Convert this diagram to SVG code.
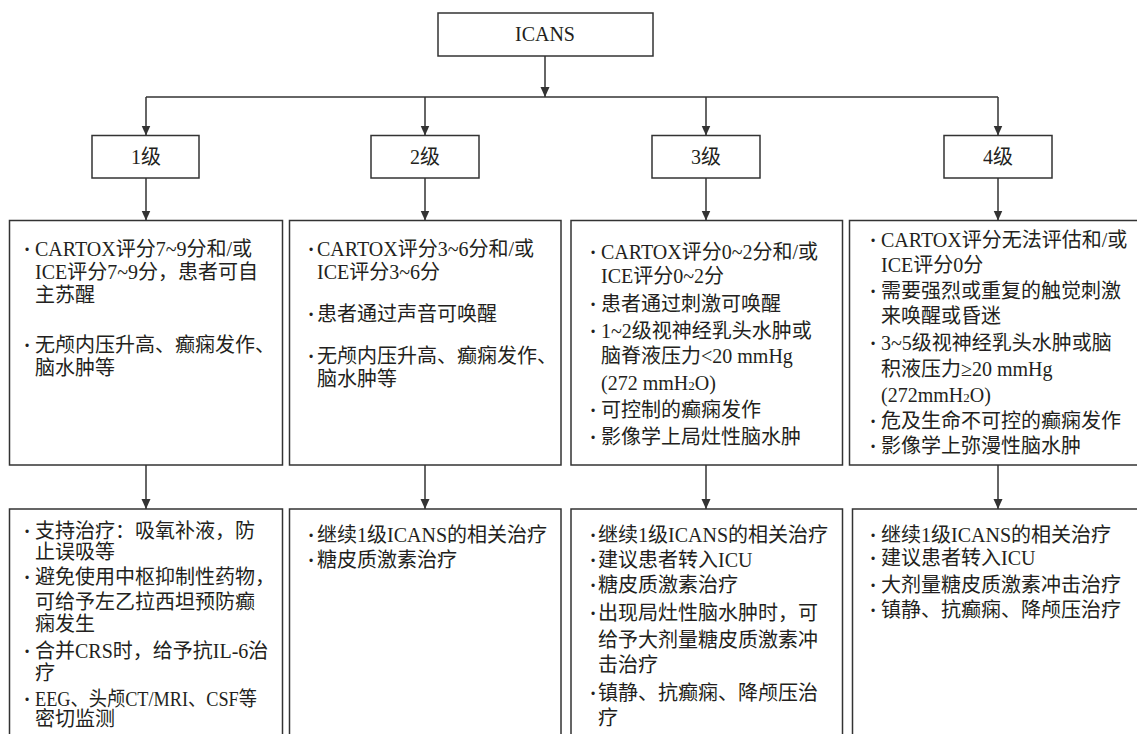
<svg xmlns="http://www.w3.org/2000/svg" width="1137" height="734" viewBox="0 0 1137 734">
<style>
.box{fill:#fff;stroke:#333;stroke-width:1.5}
.ln{fill:none;stroke:#333;stroke-width:1.5}
.arr{fill:none;stroke:#333;stroke-width:1.5;marker-end:url(#ah)}
text{font-family:"Liberation Serif","Noto Sans CJK SC",serif;font-size:20px;fill:#231f20}
.c{text-anchor:middle}
.b{text-anchor:middle;font-weight:bold}
</style>
<defs>
<marker id="ah" markerUnits="userSpaceOnUse" markerWidth="10" markerHeight="10" refX="10" refY="4.5" orient="auto">
<path d="M0,0 L10,4.5 L0,9 Z" fill="#333"/>
</marker>
</defs>
<g id="connectors">
<line class="arr" x1="545" y1="56" x2="545" y2="97"/>
<line class="ln" x1="146" y1="97" x2="998" y2="97"/>
<line class="arr" x1="146" y1="97" x2="146" y2="135.5"/>
<line class="arr" x1="425" y1="97" x2="425" y2="135.5"/>
<line class="arr" x1="706" y1="97" x2="706" y2="135.5"/>
<line class="arr" x1="998" y1="97" x2="998" y2="135.5"/>
<line class="arr" x1="146" y1="178" x2="146" y2="220.5"/>
<line class="arr" x1="425" y1="178" x2="425" y2="220.5"/>
<line class="arr" x1="706" y1="178" x2="706" y2="220.5"/>
<line class="arr" x1="998" y1="178" x2="998" y2="220.5"/>
<line class="arr" x1="146" y1="465" x2="146" y2="509"/>
<line class="arr" x1="425" y1="465" x2="425" y2="509"/>
<line class="arr" x1="706" y1="465" x2="706" y2="509"/>
<line class="arr" x1="998" y1="465" x2="998" y2="509"/>
</g>
<g id="icans">
<rect class="box" x="438" y="13" width="215" height="43"/>
<text class="c" x="545" y="41">ICANS</text>
</g>
<g id="g1">
<rect class="box" x="92" y="135.5" width="107" height="42.5"/>
<text class="c" x="146" y="164">1级</text>
</g>
<g id="g2">
<rect class="box" x="371" y="135.5" width="108" height="42.5"/>
<text class="c" x="425" y="164">2级</text>
</g>
<g id="g3">
<rect class="box" x="652" y="135.5" width="108" height="42.5"/>
<text class="c" x="706" y="164">3级</text>
</g>
<g id="g4">
<rect class="box" x="944" y="135.5" width="108" height="42.5"/>
<text class="c" x="998" y="164">4级</text>
</g>
<g id="s1">
<rect class="box" x="9.5" y="220.5" width="273" height="244.5"/>
<text class="b" x="27" y="256">·</text>
<text x="35" y="256">CARTOX评分7~9分和/或</text>
<text x="35" y="279">ICE评分7~9分，患者可自</text>
<text x="35" y="302">主苏醒</text>
<text class="b" x="27" y="352">·</text>
<text x="35" y="352">无颅内压升高、癫痫发作、</text>
<text x="35" y="375">脑水肿等</text>
</g>
<g id="s2">
<rect class="box" x="289.5" y="220.5" width="271.5" height="244.5"/>
<text class="b" x="311" y="256">·</text>
<text x="317" y="256">CARTOX评分3~6分和/或</text>
<text x="317" y="279">ICE评分3~6分</text>
<text class="b" x="311" y="321">·</text>
<text x="317" y="321">患者通过声音可唤醒</text>
<text class="b" x="311" y="363">·</text>
<text x="317" y="363">无颅内压升高、癫痫发作、</text>
<text x="317" y="386">脑水肿等</text>
</g>
<g id="s3">
<rect class="box" x="571" y="220.5" width="271.5" height="244.5"/>
<text class="b" x="593" y="259">·</text>
<text x="601" y="259">CARTOX评分0~2分和/或</text>
<text x="601" y="283">ICE评分0~2分</text>
<text class="b" x="593" y="311">·</text>
<text x="601" y="311">患者通过刺激可唤醒</text>
<text class="b" x="593" y="338">·</text>
<text x="601" y="338">1~2级视神经乳头水肿或</text>
<text x="601" y="363">脑脊液压力&lt;20 mmHg</text>
<text x="601" y="390">(272 mmH<tspan font-size="13">2</tspan>O)</text>
<text class="b" x="593" y="417">·</text>
<text x="601" y="417">可控制的癫痫发作</text>
<text class="b" x="593" y="444">·</text>
<text x="601" y="444">影像学上局灶性脑水肿</text>
</g>
<g id="s4">
<rect class="box" x="849.5" y="220.5" width="300" height="244.5"/>
<text class="b" x="873" y="247">·</text>
<text x="881" y="247">CARTOX评分无法评估和/或</text>
<text x="881" y="272">ICE评分0分</text>
<text class="b" x="873" y="298">·</text>
<text x="881" y="298">需要强烈或重复的触觉刺激</text>
<text x="881" y="323">来唤醒或昏迷</text>
<text class="b" x="873" y="350">·</text>
<text x="881" y="350">3~5级视神经乳头水肿或脑</text>
<text x="881" y="376">积液压力≥20 mmHg</text>
<text x="881" y="402">(272mmH<tspan font-size="13">2</tspan>O)</text>
<text class="b" x="873" y="428">·</text>
<text x="881" y="428">危及生命不可控的癫痫发作</text>
<text class="b" x="873" y="453">·</text>
<text x="881" y="453">影像学上弥漫性脑水肿</text>
</g>
<g id="t1">
<rect class="box" x="9.5" y="509" width="273" height="240"/>
<text class="b" x="27" y="538">·</text>
<text x="35" y="538">支持治疗：吸氧补液，防</text>
<text x="35" y="559">止误吸等</text>
<text class="b" x="27" y="584">·</text>
<text x="35" y="584">避免使用中枢抑制性药物，</text>
<text x="35" y="609">可给予左乙拉西坦预防癫</text>
<text x="35" y="631">痫发生</text>
<text class="b" x="27" y="658">·</text>
<text x="35" y="658">合并CRS时，给予抗IL-6治</text>
<text x="35" y="680">疗</text>
<text class="b" x="27" y="706">·</text>
<text x="35" y="706" textLength="222" lengthAdjust="spacingAndGlyphs">EEG、头颅CT/MRI、CSF等</text>
<text x="35" y="726">密切监测</text>
</g>
<g id="t2">
<rect class="box" x="289.5" y="509" width="271.5" height="240"/>
<text class="b" x="311" y="542">·</text>
<text x="317" y="542">继续1级ICANS的相关治疗</text>
<text class="b" x="311" y="567">·</text>
<text x="317" y="567">糖皮质激素治疗</text>
</g>
<g id="t3">
<rect class="box" x="571" y="509" width="271.5" height="240"/>
<text class="b" x="593" y="542">·</text>
<text x="598" y="542">继续1级ICANS的相关治疗</text>
<text class="b" x="593" y="567">·</text>
<text x="598" y="567">建议患者转入ICU</text>
<text class="b" x="593" y="592">·</text>
<text x="598" y="592">糖皮质激素治疗</text>
<text class="b" x="593" y="620">·</text>
<text x="598" y="620">出现局灶性脑水肿时，可</text>
<text x="598" y="647">给予大剂量糖皮质激素冲</text>
<text x="598" y="672">击治疗</text>
<text class="b" x="593" y="700">·</text>
<text x="598" y="700">镇静、抗癫痫、降颅压治</text>
<text x="598" y="725">疗</text>
</g>
<g id="t4">
<rect class="box" x="852.5" y="509" width="300" height="240"/>
<text class="b" x="873" y="542">·</text>
<text x="881" y="542">继续1级ICANS的相关治疗</text>
<text class="b" x="873" y="565">·</text>
<text x="881" y="565">建议患者转入ICU</text>
<text class="b" x="873" y="592">·</text>
<text x="881" y="592">大剂量糖皮质激素冲击治疗</text>
<text class="b" x="873" y="617">·</text>
<text x="881" y="617">镇静、抗癫痫、降颅压治疗</text>
</g>
</svg>
